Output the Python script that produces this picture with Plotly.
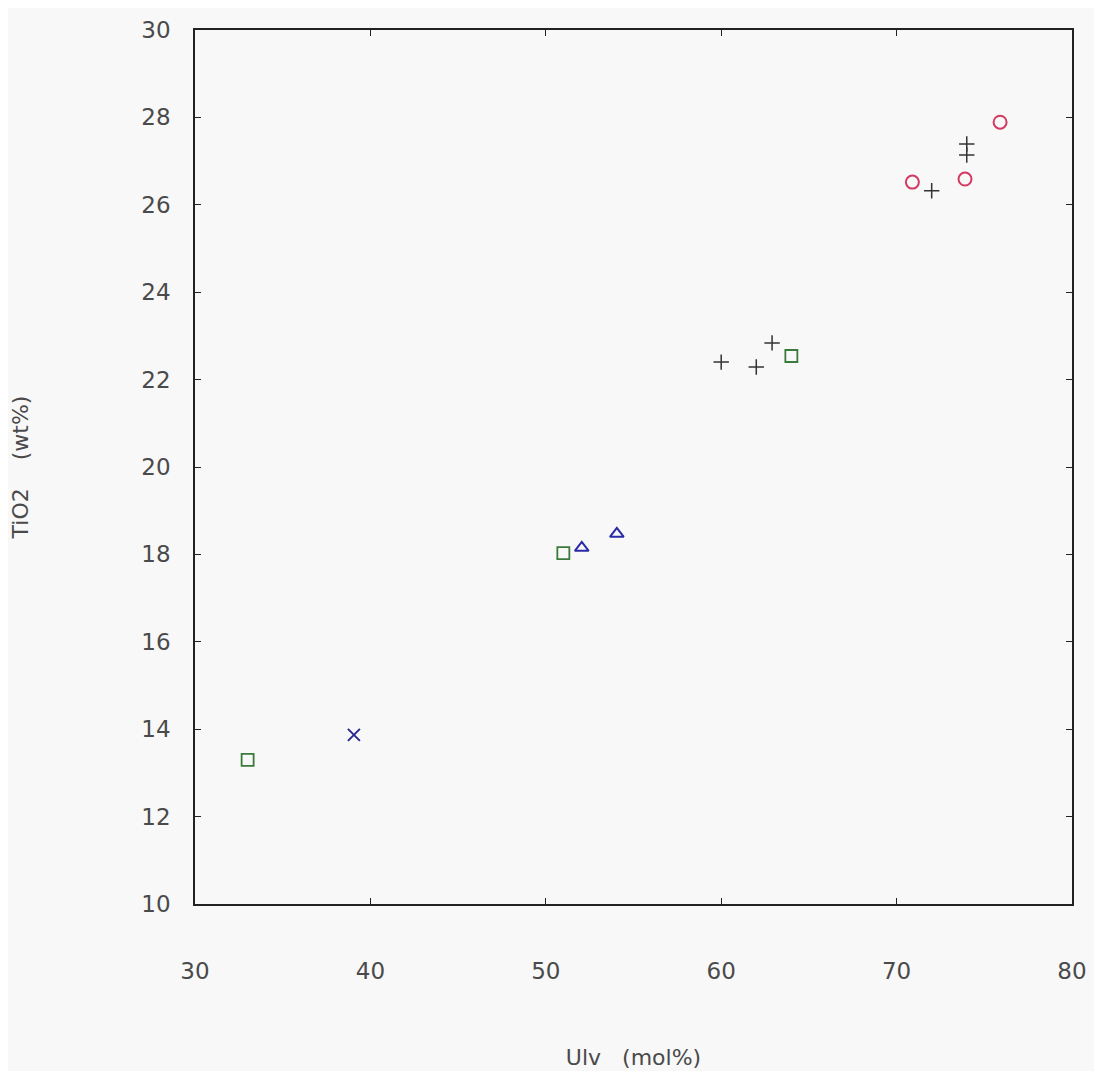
import plotly.graph_objects as go

# Data
circle_x = [70.9, 73.9, 75.9]
circle_y = [26.52, 26.59, 27.89]
plus_x = [72.0, 74.0, 74.0, 60.0, 62.0, 62.9]
plus_y = [26.32, 27.39, 27.14, 22.40, 22.29, 22.84]
square_x = [64.0, 51.0, 33.0]
square_y = [22.54, 18.03, 13.30]
tri_x = [52.05, 54.05]
tri_y = [18.15, 18.47]
cross_x = [39.06]
cross_y = [13.87]

x_ticks = [30, 40, 50, 60, 70, 80]
y_ticks = [10, 12, 14, 16, 18, 20, 22, 24, 26, 28, 30]

fig = go.Figure()
fig.add_trace(go.Scatter(x=circle_x, y=circle_y, mode="markers",
                         marker=dict(symbol="circle-open", size=13, color="#d23a62", line=dict(width=2))))
fig.add_trace(go.Scatter(x=plus_x, y=plus_y, mode="markers",
                         marker=dict(symbol="cross-thin-open", size=11, color="#333333", line=dict(width=1.5))))
fig.add_trace(go.Scatter(x=square_x, y=square_y, mode="markers",
                         marker=dict(symbol="square-open", size=12, color="#3a7a3a", line=dict(width=1.8))))
fig.add_trace(go.Scatter(x=tri_x, y=tri_y, mode="markers",
                         marker=dict(symbol="triangle-up-open", size=12, color="#2a2aa8", line=dict(width=2))))
fig.add_trace(go.Scatter(x=cross_x, y=cross_y, mode="markers",
                         marker=dict(symbol="x-thin-open", size=12, color="#2a2a90", line=dict(width=2))))

tick_font = dict(family="DejaVu Sans", size=23, color="#4a4a4a")
title_font = dict(family="DejaVu Sans", size=22, color="#4a4a4a")

axis_common = dict(showgrid=False, zeroline=False, showline=True, linecolor="#222222", linewidth=1.5,
                   mirror="ticks", ticks="inside", ticklen=6, tickcolor="#222222",
                   tickfont=tick_font, automargin=False)

fig.update_layout(
    width=1086, height=1063,
    margin=dict(l=187, r=22, t=22, b=167),
    paper_bgcolor="#f8f8f8", plot_bgcolor="#f8f8f8",
    showlegend=False,
    xaxis=dict(range=[30, 80], tickvals=x_ticks, ticktext=[str(v) for v in x_ticks],
               ticklabelstandoff=46,
               title=dict(text="Ulv   (mol%)", font=title_font, standoff=66),
               **axis_common),
    yaxis=dict(range=[10, 30], tickvals=y_ticks, ticktext=[str(v) for v in y_ticks],
               ticklabelstandoff=18,
               title=dict(text="TiO2    (wt%)", font=title_font, standoff=116),
               **axis_common),
)

fig.write_html("out.html")
